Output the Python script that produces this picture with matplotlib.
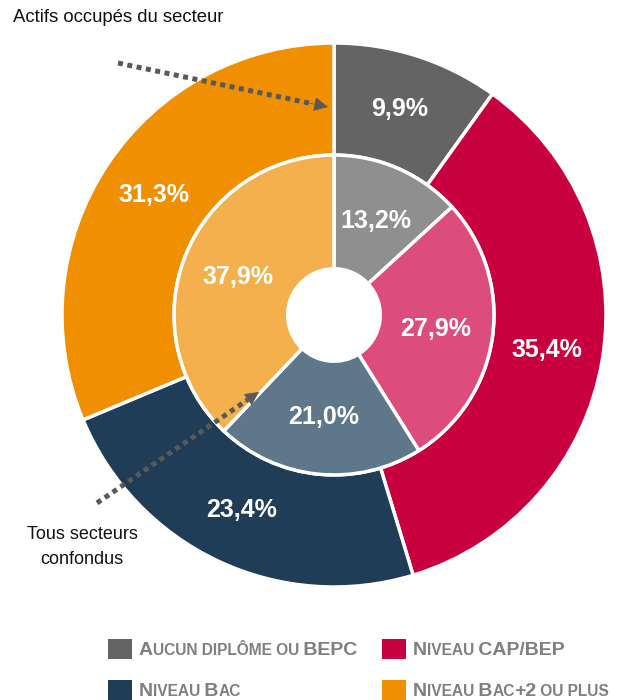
import matplotlib
matplotlib.use("Agg")
import matplotlib.pyplot as plt

plt.rcParams['font.family'] = ['Liberation Sans', 'DejaVu Sans']

# Data
categories = ["Aucun diplôme ou BEPC", "Niveau CAP/BEP", "Niveau Bac", "Niveau Bac+2 ou plus"]
outer_values = [9.9, 35.4, 23.4, 31.3]   # Actifs occupés du secteur
inner_values = [13.2, 27.9, 21.0, 37.9]  # Tous secteurs confondus
outer_colors = ['#646464', '#C8003F', '#1F3D57', '#F09000']
inner_colors = ['#8F8F8F', '#DC4C7D', '#5F778B', '#F4B04C']

# small caps legend pieces: (text, is_big)
legend_parts = [
    [("A", True), ("UCUN DIPLÔME OU", False), (" BEPC", True)],
    [("N", True), ("IVEAU", False), (" CAP/BEP", True)],
    [("N", True), ("IVEAU", False), (" B", True), ("AC", False)],
    [("N", True), ("IVEAU", False), (" B", True), ("AC", False), ("+2", True), (" OU PLUS", False)],
]

W, H = 628, 700
fig = plt.figure(figsize=(W / 100, H / 100), dpi=100)

# pie axes: center (334, 315), radius 272 px
cx, cy, R = 334, 315, 272
ax = fig.add_axes([(cx - R) / W, (H - cy - R) / H, 2 * R / W, 2 * R / H])

fmt = lambda p: f"{p:.1f}%".replace('.', ',')
txt_kw = dict(color='white', fontsize=18, fontweight='bold', ha='center', va='center')

_, _, t_out = ax.pie(outer_values, colors=outer_colors, radius=1.0, startangle=90,
                     counterclock=False, autopct=fmt, pctdistance=0.794,
                     wedgeprops=dict(width=0.412, edgecolor='white', linewidth=2.5),
                     textprops=txt_kw)
_, _, t_in = ax.pie(inner_values, colors=inner_colors, radius=0.588, startangle=90,
                    counterclock=False, autopct=fmt, pctdistance=0.644,
                    wedgeprops=dict(width=0.418, edgecolor='white', linewidth=2.5),
                    textprops=txt_kw)
ax.set_xlim(-1, 1)
ax.set_ylim(-1, 1)
ax.set_aspect('equal')
ax.axis('off')

# overlay axes in pixel coords for annotations
ov = fig.add_axes([0, 0, 1, 1])
ov.set_xlim(0, W)
ov.set_ylim(H, 0)
ov.axis('off')
ov.patch.set_alpha(0)

arrow_col = '#595959'
def dotted_arrow(x0, y0, x1, y1):
    f = 0.93
    xm, ym = x0 + (x1 - x0) * f, y0 + (y1 - y0) * f
    ov.plot([x0, xm], [y0, ym], color=arrow_col, lw=3.6, dashes=(1.0, 0.9),
            dash_capstyle='butt')
    ov.annotate("", xy=(x1, y1), xytext=(xm - (x1 - x0) * 0.02, ym - (y1 - y0) * 0.02),
                arrowprops=dict(arrowstyle='-|>,head_length=0.9,head_width=0.45',
                                color=arrow_col, lw=0.5, shrinkA=0, shrinkB=0))

dotted_arrow(118, 63, 328, 107)
dotted_arrow(97, 503, 259, 392)

ov.text(13, 18, "Actifs occupés du secteur", fontsize=13.3, color='#111111',
        ha='left', va='center')
ov.text(82, 547, "Tous secteurs\nconfondus", fontsize=13, color='#111111',
        ha='center', va='center', linespacing=1.55)

# legend
leg_pos = [(108, 649), (382, 649), (108, 690), (382, 690)]
leg_colors = outer_colors
renderer = fig.canvas.get_renderer()
for (lx, ly), col, parts in zip(leg_pos, leg_colors, legend_parts):
    ov.add_patch(plt.Rectangle((lx, ly - 10), 24, 20, color=col, lw=0))
    x = lx + 31
    for s, big in parts:
        t = ov.text(x, ly + 6, s, fontsize=14 if big else 11.2, fontweight='bold',
                    color='#7F7F7F', ha='left', va='baseline')
        bb = t.get_window_extent(renderer)
        x += bb.width - 0.5
fig.savefig("out.png", dpi=100)
